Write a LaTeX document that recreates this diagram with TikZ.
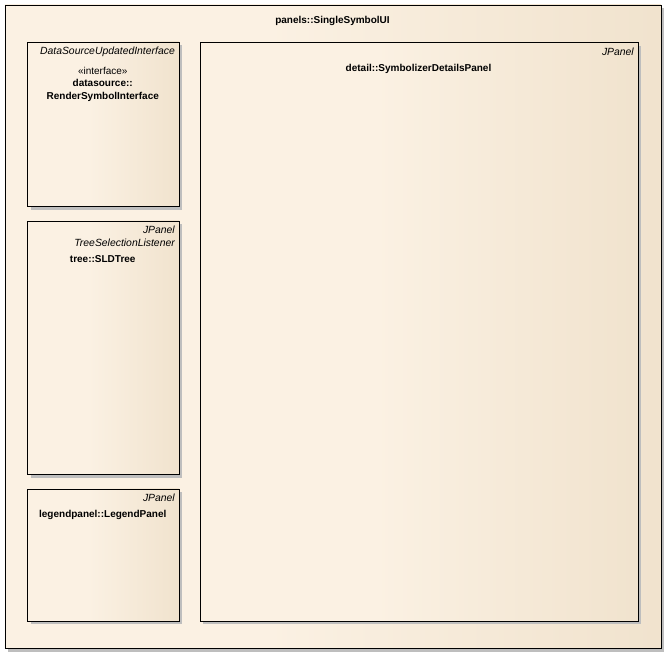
\documentclass[tikz,border=0pt]{standalone}
\usepackage{fontspec}
\setmainfont{Liberation Sans}

\definecolor{paneLight}{RGB}{251,241,227}
\definecolor{paneDark}{RGB}{232,215,188}
\definecolor{paneShadow}{RGB}{190,190,190}
\pgfdeclarehorizontalshading{paneshade}{100bp}{color(0bp)=(paneLight); color(45bp)=(paneLight); color(100bp)=(paneDark)}

\tikzset{
	panel/.style={draw, line width=0.9pt, inner sep=0pt, anchor=north west,
		preaction={fill=paneShadow, transform canvas={xshift=3.5pt, yshift=-3.5pt}},
		preaction={shade, shading=paneshade}},
	classname/.style={font=\fontsize{10}{12}\selectfont\bfseries, inner sep=0pt, anchor=base},
	stereo/.style={font=\fontsize{10.4}{12}\selectfont\itshape, inner sep=0pt, anchor=base east},
	keyword/.style={font=\fontsize{10}{12}\selectfont, inner sep=0pt, anchor=base},
}

\begin{document}
\begin{tikzpicture}[x=1pt,y=-1pt]
	\useasboundingbox (0,0) rectangle (669,656);

	% container
	\node[panel, minimum width=656pt, minimum height=643.5pt] (singleSymbolUI) at (4.5,4.5) {};
	\node[classname] (singleSymbolName) at (332.5,23.5) {panels::SingleSymbolUI};

	% left column
	\node[panel, minimum width=151.5pt, minimum height=164.5pt] (renderSymbol) at (27,41.5) {};
	\node[stereo] (renderSymbolParent) at (175,54.5) {DataSourceUpdatedInterface};
	\node[keyword] (renderSymbolKind) at (102.75,74) {«interface»};
	\node[classname] (renderSymbolPkg) at (102.75,86) {datasource::};
	\node[classname] (renderSymbolName) at (102.75,99.5) {RenderSymbolInterface};

	\node[panel, minimum width=151.5pt, minimum height=253.5pt] (sldTree) at (27,220.5) {};
	\node[stereo] (sldTreeParent) at (175,233.5) {JPanel};
	\node[stereo] (sldTreeListener) at (175,246) {TreeSelectionListener};
	\node[classname] (sldTreeName) at (102.75,262.5) {tree::SLDTree};

	\node[panel, minimum width=151.5pt, minimum height=132pt] (legendPanel) at (27,488.5) {};
	\node[stereo] (legendPanelParent) at (175,501) {JPanel};
	\node[classname] (legendPanelName) at (102.75,517) {legendpanel::LegendPanel};

	% right panel
	\node[panel, minimum width=438pt, minimum height=578.5pt] (detailsPanel) at (199.5,42) {};
	\node[stereo] (detailsPanelParent) at (634,55) {JPanel};
	\node[classname] (detailsPanelName) at (418.5,71.5) {detail::SymbolizerDetailsPanel};

\end{tikzpicture}
\end{document}
